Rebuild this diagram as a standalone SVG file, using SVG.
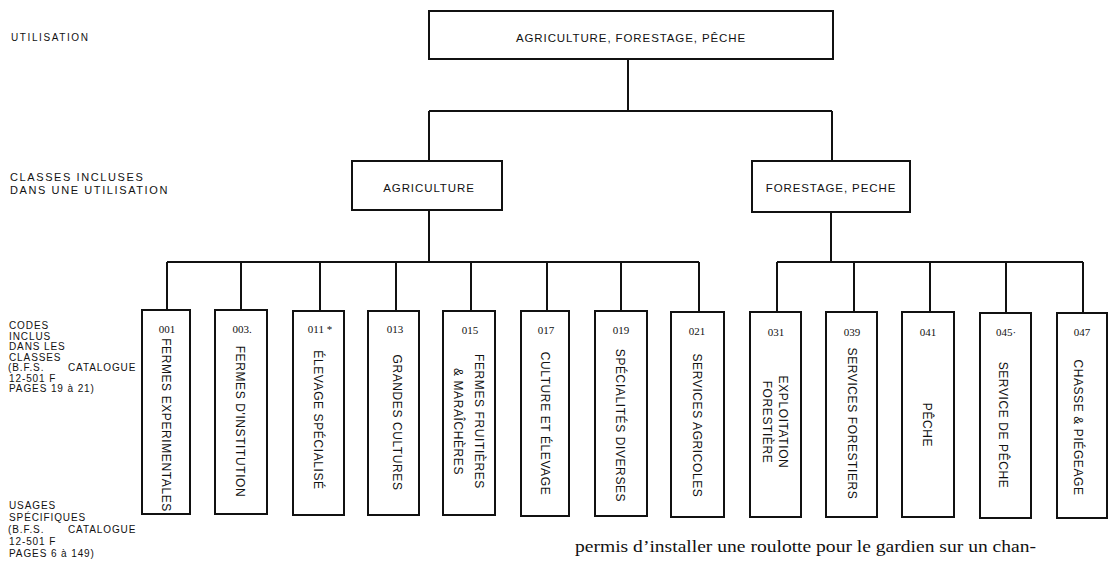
<svg xmlns="http://www.w3.org/2000/svg" width="1108" height="569" viewBox="0 0 1108 569">
<style>
.bx{fill:#fff;stroke:#111;stroke-width:2}
.ln{fill:none;stroke:#111;stroke-width:2}
.hd{font-family:"Liberation Sans",Arial,sans-serif;font-size:11.5px;letter-spacing:0.9px;fill:#111;text-anchor:middle}
.lb{font-family:"Liberation Sans",Arial,sans-serif;font-size:10px;letter-spacing:0.9px;fill:#111}
.lb2{font-family:"Liberation Sans",Arial,sans-serif;font-size:11px;letter-spacing:1.6px;fill:#111}
.num{font-family:"Liberation Serif","Times New Roman",serif;font-size:11px;fill:#111;text-anchor:middle}
.vt{font-family:"Liberation Sans",Arial,sans-serif;font-size:12px;letter-spacing:0.6px;fill:#111;text-anchor:middle}
.body{font-family:"Liberation Serif","Times New Roman",serif;font-size:16.5px;fill:#111}
</style>
<rect width="1108" height="569" fill="#fff"/>
<g id="labels">
<text class="lb" x="11" y="41" style="letter-spacing:1.6px">UTILISATION</text>
<text class="lb2" x="10" y="181">CLASSES INCLUSES</text>
<text class="lb2" x="10" y="194">DANS UNE UTILISATION</text>
<text class="lb" x="9" y="329">CODES</text>
<text class="lb" x="9" y="339.5">INCLUS</text>
<text class="lb" x="9" y="350">DANS LES</text>
<text class="lb" x="9" y="360.5">CLASSES</text>
<text class="lb" x="8" y="371">(B.F.S.<tspan x="68">CATALOGUE</tspan></text>
<text class="lb" x="9" y="381.5">12-501 F</text>
<text class="lb" x="9" y="392">PAGES 19 à 21)</text>
<text class="lb" x="9" y="509">USAGES</text>
<text class="lb" x="9" y="521">SPÉCIFIQUES</text>
<text class="lb" x="8" y="533">(B.F.S.<tspan x="68">CATALOGUE</tspan></text>
<text class="lb" x="9" y="545">12-501 F</text>
<text class="lb" x="9" y="557">PAGES 6 à 149)</text>
</g>
<g id="connectors">
<path class="ln" d="M628 59V111M429 111H832M429 111V161M832 111V161"/>
<path class="ln" d="M429 210V262M167 262H699M167 262V311M241 262V311M320 262V311M396 262V311M471 262V311M547 262V311M621 262V311M699 262V311"/>
<path class="ln" d="M831 212V262M777 262H1083M777 262V312M854 262V312M930 262V312M1006 262V312M1083 262V312"/>
</g>
<g id="n-root"><rect class="bx" x="429" y="11" width="404" height="48"/><text class="hd" x="631" y="42">AGRICULTURE, FORESTAGE, PÊCHE</text></g>
<g id="n-agri"><rect class="bx" x="352" y="161" width="150" height="49"/><text class="hd" x="429" y="192">AGRICULTURE</text></g>
<g id="n-fore"><rect class="bx" x="752" y="161" width="158" height="51"/><text class="hd" x="831" y="192">FORESTAGE, PECHE</text></g>
<g id="c001"><rect class="bx" x="142" y="310" width="48" height="204"/><text class="num" x="167" y="333">001</text><text class="vt" transform="translate(166 425) rotate(90)" y="4.3">FERMES EXPERIMENTALES</text></g>
<g id="c003"><rect class="bx" x="215" y="310" width="52" height="204"/><text class="num" x="242" y="333">003.</text><text class="vt" transform="translate(240 421.5) rotate(90)" y="4.3">FERMES D'INSTITUTION</text></g>
<g id="c011"><rect class="bx" x="293" y="311" width="51" height="204"/><text class="num" x="320" y="333">011 *</text><text class="vt" transform="translate(318 420) rotate(90)" y="4.3">ÉLEVAGE SPÉCIALISÉ</text></g>
<g id="c013"><rect class="bx" x="368" y="311" width="51" height="204"/><text class="num" x="395" y="333">013</text><text class="vt" transform="translate(397 422.5) rotate(90)" y="4.3">GRANDES CULTURES</text></g>
<g id="c015"><rect class="bx" x="443" y="311" width="52" height="204"/><text class="num" x="470" y="334">015</text><text class="vt" transform="translate(479 421.5) rotate(90)" y="4.3">FERMES FRUITIÈRES</text><text class="vt" transform="translate(458 421.5) rotate(90)" y="4.3">&amp; MARAÎCHÈRES</text></g>
<g id="c017"><rect class="bx" x="521" y="311" width="48" height="205"/><text class="num" x="546" y="334">017</text><text class="vt" transform="translate(545 423.5) rotate(90)" y="4.3">CULTURE ET ÉLEVAGE</text></g>
<g id="c019"><rect class="bx" x="595" y="311" width="52" height="205"/><text class="num" x="621" y="334">019</text><text class="vt" transform="translate(620 425.5) rotate(90)" y="4.3">SPÉCIALITÉS DIVERSES</text></g>
<g id="c021"><rect class="bx" x="671" y="312" width="53" height="205"/><text class="num" x="697" y="335">021</text><text class="vt" transform="translate(697 425.5) rotate(90)" y="4.3">SERVICES AGRICOLES</text></g>
<g id="c031"><rect class="bx" x="750" y="312" width="51" height="205"/><text class="num" x="776" y="336">031</text><text class="vt" transform="translate(783 422) rotate(90)" y="4.3">EXPLOITATION</text><text class="vt" transform="translate(767 422) rotate(90)" y="4.3">FORESTIÈRE</text></g>
<g id="c039"><rect class="bx" x="826" y="312" width="51" height="205"/><text class="num" x="852" y="336">039</text><text class="vt" transform="translate(852 423.5) rotate(90)" y="4.3">SERVICES FORESTIERS</text></g>
<g id="c041"><rect class="bx" x="902" y="312" width="52" height="205"/><text class="num" x="928" y="336">041</text><text class="vt" transform="translate(927 425) rotate(90)" y="4.3">PÊCHE</text></g>
<g id="c045"><rect class="bx" x="980" y="313" width="51" height="205"/><text class="num" x="1006" y="336">045·</text><text class="vt" transform="translate(1003 425) rotate(90)" y="4.3">SERVICE DE PÊCHE</text></g>
<g id="c047"><rect class="bx" x="1057" y="313" width="50" height="205"/><text class="num" x="1082" y="336">047</text><text class="vt" transform="translate(1078 427.5) rotate(90)" y="4.3">CHASSE &amp; PIÉGEAGE</text></g>
<text class="body" x="575" y="552" textLength="461" lengthAdjust="spacingAndGlyphs">permis d’installer une roulotte pour le gardien sur un chan-</text>
</svg>
